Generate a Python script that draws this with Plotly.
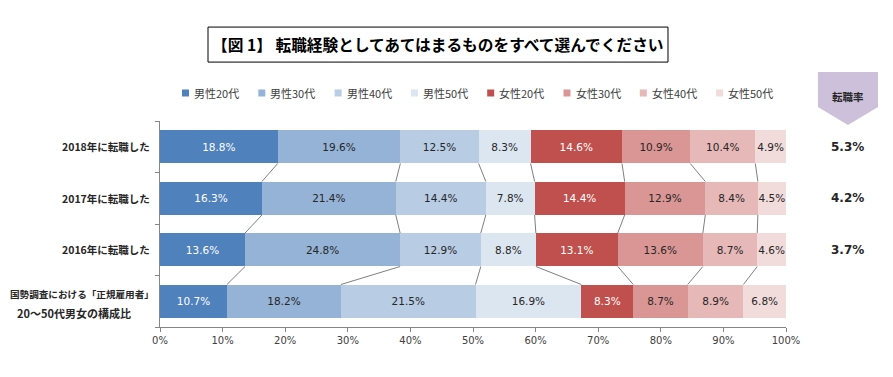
import plotly.graph_objects as go

categories = ["2018年に転職した", "2017年に転職した", "2016年に転職した", "国勢調査における「正規雇用者」|20～50代男女の構成比"]
series_names = ["男性20代", "男性30代", "男性40代", "男性50代", "女性20代", "女性30代", "女性40代", "女性50代"]
values = {
    "男性20代": [18.8, 16.3, 13.6, 10.7],
    "男性30代": [19.6, 21.4, 24.8, 18.2],
    "男性40代": [12.5, 14.4, 12.9, 21.5],
    "男性50代": [8.3, 7.8, 8.8, 16.9],
    "女性20代": [14.6, 14.4, 13.1, 8.3],
    "女性30代": [10.9, 12.9, 13.6, 8.7],
    "女性40代": [10.4, 8.4, 8.7, 8.9],
    "女性50代": [4.9, 4.5, 4.6, 6.8],
}
rate_values = [5.3, 4.2, 3.7]
x_ticks = [0, 10, 20, 30, 40, 50, 60, 70, 80, 90, 100]
title_text = "【図 1】 転職経験としてあてはまるものをすべて選んでください"
badge_text = "転職率"

colors = ["#4F81BD", "#95B3D7", "#B8CCE4", "#DCE6F1", "#C0504D", "#DA9694", "#E6B8B7", "#F2DCDB"]
text_colors = ["white", "#262626", "#262626", "#262626", "white", "#262626", "#262626", "#262626"]

n = len(categories)
ypos = [n - 1 - i for i in range(n)]
bw = 0.65

fig = go.Figure()
for s, c, tc in zip(series_names, colors, text_colors):
    v = values[s]
    fig.add_trace(go.Bar(
        x=v, y=ypos, orientation="h", name=s, width=bw,
        marker=dict(color=c, line=dict(width=0)),
        text=[f"{a:.1f}%" for a in v], textposition="inside", insidetextanchor="middle",
        textangle=0, textfont=dict(color=tc, size=10.5, family="DejaVu Sans"),
        hoverinfo="skip", showlegend=False,
    ))

# series lines (connectors between cumulative boundaries)
cum = []
for i in range(n):
    row = [values[s][i] for s in series_names]
    tot = sum(row)
    acc, r = 0, []
    for a in row:
        acc += a
        r.append(acc / tot * 100)
    cum.append(r)
lx, ly = [], []
for k in range(len(series_names) - 1):
    for i in range(n - 1):
        lx += [cum[i][k], cum[i + 1][k], None]
        ly += [ypos[i] - bw / 2, ypos[i + 1] + bw / 2, None]
fig.add_trace(go.Scatter(x=lx, y=ly, mode="lines", line=dict(color="#7F7F7F", width=1),
                         showlegend=False, hoverinfo="skip"))

fig.update_layout(
    barmode="stack", barnorm="percent",
    width=885, height=369,
    margin=dict(l=152, r=107, t=113, b=50),
    paper_bgcolor="white", plot_bgcolor="white",
    font=dict(family="Noto Sans CJK JP", color="#262626"),
    uniformtext=dict(minsize=10.5, mode="show"),
    showlegend=False,
)
fig.update_xaxes(range=[0, 100], tickvals=x_ticks, ticktext=[f"{t}%" for t in x_ticks],
                 showgrid=False, zeroline=False, showline=True, linecolor="#868686",
                 ticks="outside", ticklen=4, tickcolor="#868686",
                 tickfont=dict(size=10, color="#404040", family="DejaVu Sans"))
fig.update_yaxes(range=[-0.5, n - 0.5], showticklabels=False, showgrid=False, zeroline=False,
                 showline=True, linecolor="#868686", ticks="",
                 minor=dict(tickvals=[i - 0.5 for i in range(n + 1)], ticks="outside",
                            ticklen=4, tickcolor="#868686"))

# legend (drawn manually: small square + label)
plot_w = 626.0
plot_h = 206.0
leg_x0 = 22.0      # px from plot left to first square
leg_step = 76.3    # px between entries
leg_y = 1.136      # paper y of legend row
sq = 7.0
for j, (s, c) in enumerate(zip(series_names, colors)):
    xl = (leg_x0 + j * leg_step) / plot_w
    fig.add_shape(type="rect", xref="paper", yref="paper",
                  x0=xl, x1=xl + sq / plot_w, y0=leg_y - sq / 2 / plot_h, y1=leg_y + sq / 2 / plot_h,
                  fillcolor=c, line=dict(width=0))
    fig.add_annotation(text=s, xref="paper", yref="paper", x=xl + (sq + 3) / plot_w, y=leg_y,
                       xanchor="left", yanchor="middle", showarrow=False,
                       font=dict(size=11, color="#404040"))

# y labels
for i, c in enumerate(categories):
    if "|" in c:
        l1, l2 = c.split("|")
        fig.add_annotation(text=f"<b>{l1}</b>", x=-0.1246, xref="paper", y=ypos[i] + 0.14, yref="y",
                           xanchor="center", yanchor="middle", showarrow=False,
                           font=dict(size=9.6, color="#262626"))
        fig.add_annotation(text=f"<b>{l2}</b>", x=-0.1375, xref="paper", y=ypos[i] - 0.23, yref="y",
                           xanchor="center", yanchor="middle", showarrow=False,
                           font=dict(size=11, color="#262626"))
    else:
        fig.add_annotation(text=f"<b>{c}</b>", x=-0.013, xref="paper", y=ypos[i], yref="y",
                           xanchor="right", yanchor="middle", showarrow=False,
                           font=dict(size=10.5, color="#262626"))

# title box
fig.add_shape(type="rect", xref="paper", yref="paper", x0=0.0767, x1=0.8115, y0=1.286, y1=1.456,
              line=dict(color="black", width=1), fillcolor="white", layer="below")
fig.add_annotation(text=f"<b>{title_text}</b>", xref="paper", yref="paper", x=0.444, y=1.371,
                   xanchor="center", yanchor="middle",
                   showarrow=False, font=dict(size=15.7, color="black", family="Noto Sans CJK JP"))

# badge
fig.add_shape(type="path", xref="paper", yref="paper",
              path="M 1.051 1.238 L 1.147 1.238 L 1.147 1.068 L 1.099 0.981 L 1.051 1.068 Z",
              fillcolor="#CCC0DA", line=dict(width=0))
fig.add_annotation(text=f"<b>{badge_text}</b>", xref="paper", yref="paper", x=1.099, y=1.117,
                   xanchor="center", yanchor="middle",
                   showarrow=False, font=dict(size=10.5, color="#262626"))
for i, r in enumerate(rate_values):
    fig.add_annotation(text=f"<b>{r:.1f}%</b>", xref="paper", yref="y", x=1.099, y=ypos[i],
                       xanchor="center", yanchor="middle",
                       showarrow=False, font=dict(size=12, color="#262626", family="DejaVu Sans"))

fig.write_html("out.html")
